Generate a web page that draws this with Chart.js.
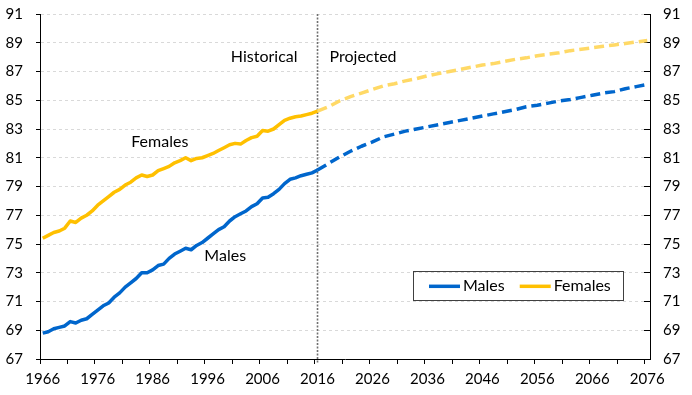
<!DOCTYPE html>
<html>
<head>
<meta charset="utf-8">
<script src="https://cdn.jsdelivr.net/npm/chart.js@4.4.1/dist/chart.umd.min.js"></script>
<style>
  html, body { margin: 0; padding: 0; background: #fff; }
  #wrap { width: 692px; height: 395px; }
</style>
</head>
<body>
<div id="wrap"><canvas id="lifeChart" width="692" height="395"></canvas></div>
<script>
// categories: one per year
const firstYear = 1966;
const lastYear = 2076;
const years = [];
for (let y = firstYear; y <= lastYear; y++) years.push(String(y));

// historical life expectancy 1966-2016, one value per year
const histMales = [
  68.8, 68.9, 69.1, 69.2, 69.3, 69.6, 69.5, 69.7, 69.8, 70.1,
  70.4, 70.7, 70.9, 71.3, 71.6, 72.0, 72.3, 72.6, 73.0, 73.0,
  73.2, 73.5, 73.6, 74.0, 74.3, 74.5, 74.7, 74.6, 74.9, 75.1,
  75.4, 75.7, 76.0, 76.2, 76.6, 76.9, 77.1, 77.3, 77.6, 77.8,
  78.2, 78.25, 78.5, 78.8, 79.2, 79.5, 79.6, 79.75, 79.85, 79.95,
  80.15
];
const histFemales = [
  75.4, 75.6, 75.8, 75.9, 76.1, 76.6, 76.5, 76.8, 77.0, 77.3,
  77.7, 78.0, 78.3, 78.6, 78.8, 79.1, 79.3, 79.6, 79.8, 79.7,
  79.8, 80.1, 80.25, 80.4, 80.65, 80.8, 81.0, 80.8, 80.95, 81.0,
  81.15, 81.3, 81.5, 81.7, 81.9, 82.0, 81.95, 82.2, 82.4, 82.5,
  82.9, 82.85, 83.0, 83.3, 83.6, 83.75, 83.85, 83.9, 84.0, 84.1,
  84.25
];

// projections, read every second year
const projYears = [
  2016, 2018, 2020, 2022, 2024, 2026, 2028, 2030, 2032, 2034, 2036,
  2038, 2040, 2042, 2044, 2046, 2048, 2050, 2052, 2054, 2056,
  2058, 2060, 2062, 2064, 2066, 2068, 2070, 2072, 2074, 2076
];
const projMales = [
  80.15, 80.6, 81.05, 81.45, 81.8, 82.1, 82.45, 82.65, 82.85, 83.0, 83.15,
  83.3, 83.45, 83.6, 83.75, 83.9, 84.05, 84.2, 84.35, 84.55, 84.65,
  84.8, 84.95, 85.05, 85.2, 85.35, 85.5, 85.6, 85.8, 85.95, 86.1
];
const projFemales = [
  84.25, 84.55, 84.95, 85.25, 85.5, 85.75, 86.0, 86.15, 86.35, 86.5, 86.7,
  86.85, 87.0, 87.15, 87.3, 87.45, 87.55, 87.7, 87.85, 87.95, 88.1,
  88.2, 88.3, 88.45, 88.55, 88.65, 88.75, 88.85, 88.95, 89.05, 89.15
];

// y axis range
const yMin = 67;
const yMax = 91;
const yStep = 2;

const blue = '#0066CC';
const gold = '#FFC000';
const goldLight = '#FFD966';
const font = 'Lato';

// text labels on the plot and the legend box
const overlay = {
  id: 'overlay',
  beforeDatasetsDraw(chart) {
    const { ctx, chartArea, scales: { x } } = chart;
    const xLine = x.getPixelForValue(years.indexOf('2016'));
    ctx.save();
    ctx.strokeStyle = '#707070';
    ctx.lineWidth = 1.6;
    ctx.setLineDash([2, 1.5]);
    ctx.beginPath();
    ctx.moveTo(xLine, chartArea.top);
    ctx.lineTo(xLine, chartArea.bottom + 4);
    ctx.stroke();
    ctx.restore();
  },
  afterDraw(chart) {
    const { ctx, chartArea, scales: { x, y } } = chart;
    const xLine = x.getPixelForValue(years.indexOf('2016'));
    ctx.save();
    ctx.font = '16px ' + font;
    ctx.fillStyle = '#000';
    ctx.textBaseline = 'middle';

    ctx.textAlign = 'right';
    ctx.fillText('Historical', xLine - 20, y.getPixelForValue(88.0));
    ctx.textAlign = 'left';
    ctx.fillText('Projected', xLine + 12, y.getPixelForValue(88.0));
    ctx.textAlign = 'center';
    ctx.fillText('Females', x.getPixelForValue(1987.3 - firstYear), y.getPixelForValue(82.1));
    ctx.fillText('Males', x.getPixelForValue(1999.2 - firstYear), y.getPixelForValue(74.2));

    // legend box
    const bx = chartArea.right - 237, by = y.getPixelForValue(73.1), bw = 210, bh = 29;
    ctx.strokeStyle = '#404040';
    ctx.lineWidth = 1;
    ctx.strokeRect(Math.round(bx) + 0.5, Math.round(by) + 0.5, bw, bh);
    const cy = by + bh / 2 + 0.5;
    const items = [chart.data.datasets[0], chart.data.datasets[1]];
    let lx = bx + 16;
    ctx.textAlign = 'left';
    items.forEach(ds => {
      ctx.strokeStyle = ds.borderColor;
      ctx.lineWidth = 3.5;
      ctx.beginPath();
      ctx.moveTo(lx, cy);
      ctx.lineTo(lx + 31, cy);
      ctx.stroke();
      ctx.fillText(ds.label, lx + 34, cy);
      lx += 34 + ctx.measureText(ds.label).width + 15;
    });
    ctx.restore();
  }
};

const lineStyle = { pointRadius: 0, borderWidth: 3.5, tension: 0, borderJoinStyle: 'round', fill: false };

const fitY = w => s => { s.width = w; s.paddingTop = 0; s.paddingBottom = 0; };

new Chart(document.getElementById('lifeChart').getContext('2d'), {
  type: 'line',
  data: {
    labels: years,
    datasets: [
      { label: 'Males', data: histMales, borderColor: blue, ...lineStyle },
      { label: 'Females', data: histFemales, borderColor: gold, ...lineStyle },
      { label: 'Males (projected)', data: projYears.map((yr, i) => ({ x: String(yr), y: projMales[i] })),
        borderColor: blue, borderDash: [10, 5], ...lineStyle },
      { label: 'Females (projected)', data: projYears.map((yr, i) => ({ x: String(yr), y: projFemales[i] })),
        borderColor: goldLight, borderDash: [10, 5], ...lineStyle }
    ]
  },
  options: {
    responsive: false,
    animation: false,
    layout: { padding: { top: 14, left: 0, right: 0, bottom: 0 } },
    plugins: { legend: { display: false }, tooltip: { enabled: false } },
    scales: {
      x: {
        type: 'category',
        offset: true,
        grid: {
          offset: true,
          drawOnChartArea: false,
          tickLength: 5,
          tickColor: c => (c.index % 5 === 0 ? '#000' : 'rgba(0,0,0,0)')
        },
        border: { color: '#000', width: 1 },
        ticks: {
          autoSkip: false,
          maxRotation: 0,
          padding: 6,
          color: '#000',
          font: { family: font, size: 15 },
          callback: (v, i) => (i % 10 === 0 ? years[i] : '')
        },
        afterFit: s => { s.height = 36; s.paddingTop = 0; s.paddingBottom = 0; }
      },
      y: {
        position: 'left',
        min: yMin,
        max: yMax,
        grid: { color: '#D9D9D9', tickColor: '#000', tickLength: 4 },
        border: { color: '#000', width: 1, dash: [3, 3] },
        ticks: { stepSize: yStep, padding: 13, color: '#000', font: { family: font, size: 15 } },
        afterFit: fitY(40)
      },
      y2: {
        position: 'right',
        min: yMin,
        max: yMax,
        grid: { drawOnChartArea: false, tickColor: '#000', tickLength: -6 },
        border: { color: '#000', width: 1 },
        ticks: { stepSize: yStep, padding: 19, color: '#000', font: { family: font, size: 15 } },
        afterFit: fitY(42)
      }
    }
  },
  plugins: [overlay]
});
</script>
</body>
</html>
